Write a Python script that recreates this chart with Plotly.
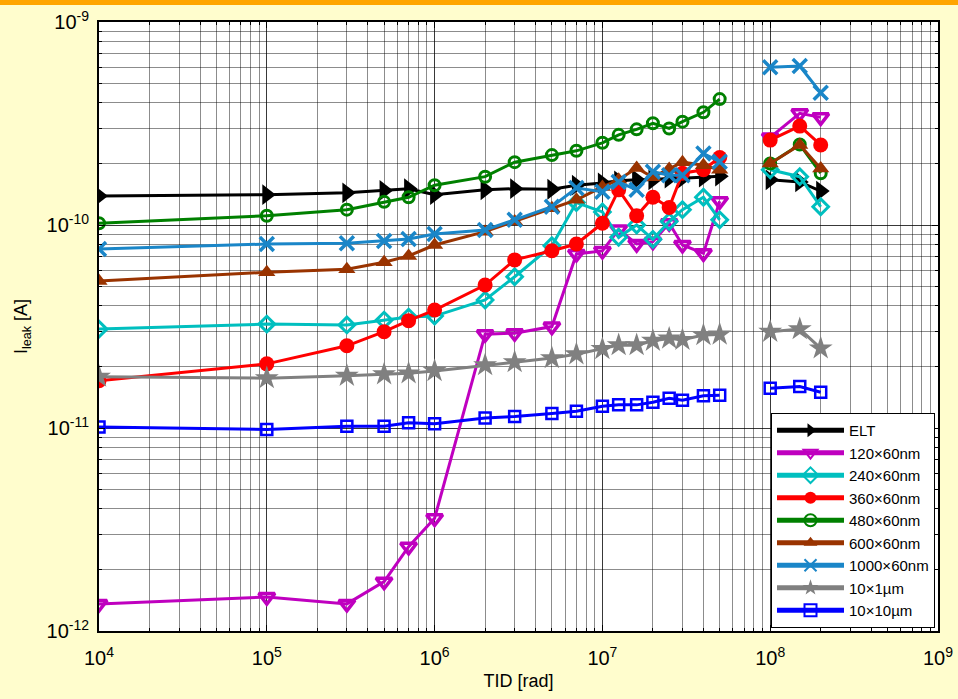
import plotly.graph_objects as go

# ---------------- data ----------------
tid_a = [1e4, 1e5, 3e5, 5e5, 7e5, 1e6, 2e6, 3e6, 5e6, 7e6,
         1e7, 1.25e7, 1.6e7, 2e7, 2.5e7, 3e7, 4e7, 5e7]
tid_b = [1e8, 1.5e8, 2e8]

series_names = ["ELT", "120×60nm", "240×60nm", "360×60nm", "480×60nm",
                "600×60nm", "1000×60nm", "10×1µm", "10×10µm"]

elt_a = [1.39e-10, 1.41e-10, 1.44e-10, 1.48e-10, 1.51e-10, 1.41e-10, 1.49e-10, 1.51e-10, 1.50e-10,
         1.57e-10, 1.61e-10, 1.65e-10, 1.67e-10, 1.67e-10, 1.70e-10, 1.70e-10, 1.72e-10, 1.74e-10]
elt_b = [1.67e-10, 1.63e-10, 1.47e-10]

n120_a = [1.36e-12, 1.47e-12, 1.36e-12, 1.75e-12, 2.60e-12, 3.59e-12, 2.90e-11, 2.93e-11, 3.16e-11,
          7.2e-11, 7.45e-11, 9.5e-11, 8.06e-11, 8.28e-11, 1.02e-10, 7.97e-11, 7.25e-11, 1.31e-10]
n120_b = [2.7e-10, 3.55e-10, 3.39e-10]

n240_a = [3.07e-11, 3.25e-11, 3.22e-11, 3.40e-11, 3.52e-11, 3.56e-11, 4.27e-11, 5.56e-11, 7.9e-11,
          1.29e-10, 1.16e-10, 8.7e-11, 1.0e-10, 8.5e-11, 1.04e-10, 1.19e-10, 1.37e-10, 1.06e-10]
n240_b = [1.87e-10, 1.73e-10, 1.23e-10]

n360_a = [1.71e-11, 2.07e-11, 2.54e-11, 2.98e-11, 3.38e-11, 3.81e-11, 5.06e-11, 6.73e-11, 7.47e-11,
          8.06e-11, 1.02e-10, 1.49e-10, 1.11e-10, 1.37e-10, 1.22e-10, 1.80e-10, 1.87e-10, 2.15e-10]
n360_b = [2.62e-10, 3.07e-10, 2.48e-10]

n480_a = [1.02e-10, 1.11e-10, 1.19e-10, 1.30e-10, 1.37e-10, 1.57e-10, 1.73e-10, 2.04e-10, 2.21e-10,
          2.32e-10, 2.54e-10, 2.78e-10, 2.96e-10, 3.17e-10, 2.99e-10, 3.23e-10, 3.59e-10, 4.17e-10]
n480_b = [2.01e-10, 2.49e-10, 1.80e-10]

n600_a = [5.3e-11, 5.85e-11, 6.05e-11, 6.55e-11, 7.04e-11, 7.97e-11, 9.27e-11, 1.04e-10, 1.21e-10,
          1.33e-10, 1.54e-10, 1.67e-10, 1.91e-10, 1.72e-10, 1.89e-10, 2.04e-10, 1.97e-10, 1.87e-10]
n600_b = [2.01e-10, 2.48e-10, 1.90e-10]

n1000_a = [7.62e-11, 8.06e-11, 8.12e-11, 8.34e-11, 8.53e-11, 9.03e-11, 9.45e-11, 1.06e-10, 1.23e-10,
           1.52e-10, 1.46e-10, 1.63e-10, 1.49e-10, 1.83e-10, 1.76e-10, 1.76e-10, 2.25e-10, 2.05e-10]
n1000_b = [5.98e-10, 6.07e-10, 4.48e-10]

u10x1_a = [1.79e-11, 1.76e-11, 1.81e-11, 1.84e-11, 1.86e-11, 1.91e-11, 2.04e-11, 2.11e-11, 2.21e-11,
           2.31e-11, 2.45e-11, 2.56e-11, 2.56e-11, 2.69e-11, 2.76e-11, 2.72e-11, 2.87e-11, 2.89e-11]
u10x1_b = [2.98e-11, 3.07e-11, 2.47e-11]

u10x10_a = [1.01e-11, 9.84e-12, 1.02e-11, 1.02e-11, 1.06e-11, 1.05e-11, 1.12e-11, 1.14e-11, 1.18e-11,
            1.21e-11, 1.28e-11, 1.30e-11, 1.30e-11, 1.34e-11, 1.40e-11, 1.37e-11, 1.44e-11, 1.45e-11]
u10x10_b = [1.57e-11, 1.60e-11, 1.50e-11]

x_tickvals = [1e4, 1e5, 1e6, 1e7, 1e8, 1e9]
x_ticktext = ["10<sup>4</sup>", "10<sup>5</sup>", "10<sup>6</sup>", "10<sup>7</sup>",
              "10<sup>8</sup>", "10<sup>9</sup>"]
y_tickvals = [1e-12, 1e-11, 1e-10, 1e-9]
y_ticktext = ["10<sup>-12</sup>", "10<sup>-11</sup>", "10<sup>-10</sup>", "10<sup>-9</sup>"]

# ---------------- styles ----------------
styles = [
    dict(color="#000000", symbol="triangle-right", size=18, lw=0),
    dict(color="#BF00BF", symbol="triangle-down-open", size=14, lw=3.5),
    dict(color="#00BFBF", symbol="diamond-open", size=12, lw=3),
    dict(color="#FF0000", symbol="circle", size=15, lw=0),
    dict(color="#008000", symbol="circle-open", size=11, lw=3),
    dict(color="#993300", symbol="triangle-up", size=15, lw=0),
    dict(color="#1A86C8", symbol="x-thin-open", size=14, lw=3.5),
    dict(color="#808080", symbol="star", size=18, lw=0),
    dict(color="#0000FF", symbol="square-open", size=11, lw=2.5),
]
data_a = [elt_a, n120_a, n240_a, n360_a, n480_a, n600_a, n1000_a, u10x1_a, u10x10_a]
data_b = [elt_b, n120_b, n240_b, n360_b, n480_b, n600_b, n1000_b, u10x1_b, u10x10_b]

fig = go.Figure()
for name, st, ya, yb in zip(series_names, styles, data_a, data_b):
    marker = dict(symbol=st["symbol"], size=st["size"], color=st["color"],
                  line=dict(width=st["lw"], color=st["color"]))
    fig.add_trace(go.Scatter(x=tid_a, y=ya, mode="lines+markers", name=name,
                             legendgroup=name, line=dict(color=st["color"], width=3),
                             marker=marker))
    fig.add_trace(go.Scatter(x=tid_b, y=yb, mode="lines+markers", name=name,
                             legendgroup=name, showlegend=False,
                             line=dict(color=st["color"], width=3), marker=marker))

W, H = 958, 699
ml, mr, mt, mb = 99, 20, 22, 68
pw, ph = W - ml - mr, H - mt - mb
BG = "#FFFDCD"

axis_common = dict(
    showline=True, linecolor="black", linewidth=2, mirror="allticks",
    ticks="inside", ticklen=6, tickcolor="black", automargin=False,
    showgrid=True, gridcolor="rgba(0,0,0,0.6)", gridwidth=1,
    zeroline=False,
    tickfont=dict(family="Liberation Sans, Arial", size=20, color="black"),
)

fig.update_xaxes(type="log", range=[4, 9], tickvals=x_tickvals, ticktext=x_ticktext,
                 ticklabelstandoff=8,
                 minor=dict(showgrid=True, gridcolor="rgba(0,0,0,0.45)", gridwidth=1,
                            ticks="inside", ticklen=3, tickcolor="black", dtick="D1"),
                 title=dict(text="TID [rad]", font=dict(family="Liberation Sans, Arial",
                                                      size=18, color="black"), standoff=6),
                 **axis_common)
fig.update_yaxes(type="log", range=[-12, -9], tickvals=y_tickvals, ticktext=y_ticktext,
                 ticklabelstandoff=4,
                 minor=dict(showgrid=True, gridcolor="rgba(0,0,0,0.45)", gridwidth=1,
                            ticks="inside", ticklen=3, tickcolor="black", dtick="D1"),
                 title=dict(text="I<sub>leak</sub> [A]", font=dict(family="Liberation Sans, Arial",
                                                                 size=18, color="black"), standoff=14),
                 **axis_common)

fig.update_layout(
    width=W, height=H,
    margin=dict(l=ml, r=mr, t=mt, b=mb, pad=0),
    paper_bgcolor=BG, plot_bgcolor="white",
    showlegend=True,
    legend=dict(x=(935 - ml) / pw, xanchor="right", y=0.005,
                yanchor="bottom", bgcolor="white", bordercolor="black", borderwidth=1,
                font=dict(family="Liberation Sans, Arial", size=15, color="black"),
                tracegroupgap=0, itemwidth=67, itemsizing="constant"),
    shapes=[dict(type="rect", xref="paper", yref="paper",
                 x0=-ml / pw, x1=1 + mr / pw, y0=1 + (mt - 5) / ph, y1=1 + mt / ph,
                 fillcolor="#FFA500", line=dict(width=0), layer="above")],
)

fig.write_html("out.html",
               config={"displayModeBar": False},
               post_script="document.body.style.margin='0';"
                           "document.body.style.background='" + BG + "';")
